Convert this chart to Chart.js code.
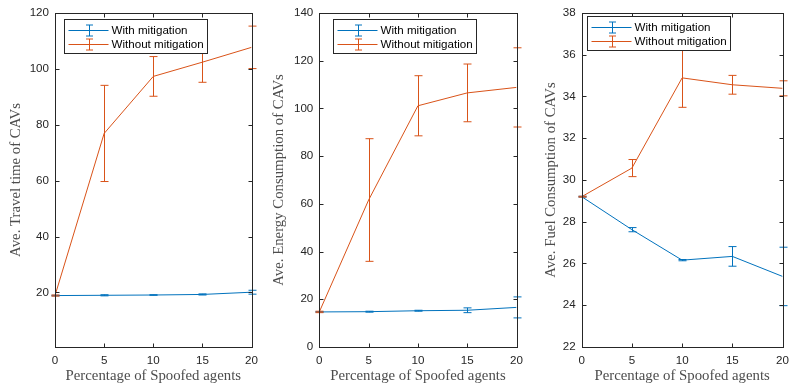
<!DOCTYPE html>
<html>
<head>
<meta charset="utf-8">
<script src="https://cdn.jsdelivr.net/npm/chart.js@4.4.0/dist/chart.umd.min.js"></script>
<style>
  body { margin: 0; background: #fff; }
  #wrap { position: relative; width: 796px; height: 385px; }
  canvas { position: absolute; top: 0; }
</style>
</head>
<body>
<div id="wrap">
  <canvas id="travel" width="265" height="385" style="left:0px"></canvas>
  <canvas id="energy" width="265" height="385" style="left:265px"></canvas>
  <canvas id="fuel" width="266" height="385" style="left:530px"></canvas>
</div>
<script>
// data
const xPct = [0, 5, 10, 15, 20];
const xTicks = [0, 5, 10, 15, 20];
const seriesNames = ['With mitigation', 'Without mitigation'];
const xTitle = 'Percentage of Spoofed agents';

const travelWith = [18.9, 19.0, 19.1, 19.3, 20.1];
const travelWithErr = [0.1, 0.2, 0.1, 0.2, 0.7];
const travelWithout = [18.9, 76.9, 97.3, 102.4, 107.7];
const travelWithoutErr = [0.2, 17.2, 7.1, 7.2, 7.6];
const travelTicks = [20, 40, 60, 80, 100, 120];

const energyWith = [14.7, 14.8, 15.2, 15.4, 16.6];
const energyWithErr = [0.1, 0.2, 0.2, 1.0, 4.4];
const energyWithout = [14.7, 61.6, 101.1, 106.5, 108.8];
const energyWithoutErr = [0.3, 25.7, 12.6, 12.1, 16.6];
const energyTicks = [0, 20, 40, 60, 80, 100, 120, 140];

const fuelWith = [29.2, 27.62, 26.16, 26.34, 25.38];
const fuelWithErr = [0.02, 0.1, 0.03, 0.47, 1.4];
const fuelWithout = [29.2, 30.57, 34.89, 34.56, 34.39];
const fuelWithoutErr = [0.02, 0.41, 1.41, 0.45, 0.36];
const fuelTicks = [22, 24, 26, 28, 30, 32, 34, 36, 38];

const blue = '#0072BD';
const orange = '#D95319';
const axisColor = '#262626';
const sansFont = { family: '"Liberation Sans", Arial, sans-serif', size: 11.6 };
const serifFont = { family: '"Liberation Serif", "Times New Roman", serif', size: 14.8 };

function toPoints(vals) {
  return vals.map((v, i) => ({ x: xPct[i], y: v }));
}

// vertical error bars with caps
const errorBars = {
  id: 'errorBars',
  afterDatasetsDraw(chart) {
    const ctx = chart.ctx;
    const yScale = chart.scales.y;
    chart.data.datasets.forEach((ds, i) => {
      const meta = chart.getDatasetMeta(i);
      ctx.save();
      ctx.strokeStyle = ds.borderColor;
      ctx.lineWidth = 1;
      meta.data.forEach((pt, j) => {
        const v = ds.data[j].y;
        const e = ds.errors[j];
        const x = Math.round(pt.x) + 0.5;
        const yTop = yScale.getPixelForValue(v + e);
        const yBot = yScale.getPixelForValue(v - e);
        ctx.beginPath();
        ctx.moveTo(x, yTop); ctx.lineTo(x, yBot);
        ctx.moveTo(x - 4, yTop); ctx.lineTo(x + 4, yTop);
        ctx.moveTo(x - 4, yBot); ctx.lineTo(x + 4, yBot);
        ctx.stroke();
      });
      ctx.restore();
    });
  }
};

// box around the axes, inward ticks, and the boxed legend
const frameAndLegend = {
  id: 'frameAndLegend',
  afterDraw(chart, args, opts) {
    const ctx = chart.ctx;
    const a = chart.chartArea;
    const L = Math.round(a.left) + 0.5, R = Math.round(a.right) + 0.5;
    const T = Math.round(a.top) + 0.5, B = Math.round(a.bottom) + 0.5;
    ctx.save();
    ctx.strokeStyle = axisColor;
    ctx.lineWidth = 1;
    ctx.strokeRect(L, T, R - L, B - T);
    ctx.beginPath();
    chart.scales.y.ticks.forEach(t => {
      const y = Math.round(chart.scales.y.getPixelForValue(t.value)) + 0.5;
      ctx.moveTo(L, y); ctx.lineTo(L + 4, y);
      ctx.moveTo(R, y); ctx.lineTo(R - 4, y);
    });
    chart.scales.x.ticks.forEach(t => {
      const x = Math.round(chart.scales.x.getPixelForValue(t.value)) + 0.5;
      ctx.moveTo(x, B); ctx.lineTo(x, B - 4);
      ctx.moveTo(x, T); ctx.lineTo(x, T + 4);
    });
    ctx.stroke();

    const lx = Math.round(a.left + opts.dx) + 0.5;
    const ly = Math.round(a.top + opts.dy) + 0.5;
    const w = 143, h = 34;
    ctx.fillStyle = '#fff';
    ctx.fillRect(lx, ly, w, h);
    ctx.strokeRect(lx, ly, w, h);
    ctx.font = sansFont.size + 'px ' + sansFont.family;
    ctx.textBaseline = 'middle';
    ctx.textAlign = 'left';
    chart.data.datasets.forEach((ds, i) => {
      const cy = Math.round(ly + 10 + i * 14.4) + 0.5;
      const cx = Math.round(lx + 24) + 0.5;
      ctx.strokeStyle = ds.borderColor;
      ctx.beginPath();
      ctx.moveTo(lx + 4, cy); ctx.lineTo(lx + 44, cy);
      ctx.moveTo(cx, cy - 5.5); ctx.lineTo(cx, cy + 5.5);
      ctx.moveTo(cx - 3.5, cy - 5.5); ctx.lineTo(cx + 3.5, cy - 5.5);
      ctx.moveTo(cx - 3.5, cy + 5.5); ctx.lineTo(cx + 3.5, cy + 5.5);
      ctx.stroke();
      ctx.fillStyle = '#000';
      ctx.fillText(ds.label, lx + 47, cy);
    });
    ctx.restore();
  }
};

function makeChart(id, cfg) {
  return new Chart(document.getElementById(id), {
    type: 'line',
    data: {
      datasets: [
        { label: seriesNames[0], data: toPoints(cfg.withVals), errors: cfg.withErr, borderColor: blue, order: 1 },
        { label: seriesNames[1], data: toPoints(cfg.withoutVals), errors: cfg.withoutErr, borderColor: orange, order: 0 }
      ]
    },
    options: {
      responsive: false,
      animation: false,
      devicePixelRatio: 1,
      layout: { padding: { top: 6, right: cfg.padRight, left: 0, bottom: 0 } },
      elements: {
        point: { radius: 0 },
        line: { borderWidth: 1, tension: 0, fill: false }
      },
      plugins: {
        legend: { display: false },
        tooltip: { enabled: false },
        frameAndLegend: { dx: cfg.legendDx, dy: cfg.legendDy }
      },
      scales: {
        x: {
          type: 'linear',
          min: 0,
          max: 20,
          afterBuildTicks: s => { s.ticks = xTicks.map(v => ({ value: v })); },
          afterFit: s => { s.height = 38; },
          grid: { display: false, drawTicks: false },
          border: { display: false },
          ticks: { padding: 7, font: sansFont, color: axisColor, maxRotation: 0 },
          title: { display: true, text: xTitle, font: serifFont, color: '#4d4d4d', padding: 0 }
        },
        y: {
          type: 'linear',
          min: cfg.yMin,
          max: cfg.yMax,
          afterBuildTicks: s => { s.ticks = cfg.yTicks.map(v => ({ value: v })); },
          afterFit: s => { s.width = cfg.yWidth; },
          grid: { display: false, drawTicks: false },
          border: { display: false },
          ticks: { padding: 6, font: sansFont, color: axisColor },
          title: { display: true, text: cfg.yTitle, font: serifFont, color: '#4d4d4d', padding: { top: cfg.titlePad, bottom: 0 } }
        }
      }
    },
    plugins: [errorBars, frameAndLegend]
  });
}

makeChart('travel', {
  withVals: travelWith, withErr: travelWithErr,
  withoutVals: travelWithout, withoutErr: travelWithoutErr,
  yMin: 0.5, yMax: 120, yTicks: travelTicks,
  yTitle: 'Ave. Travel time of CAVs',
  yWidth: 55, padRight: 9.3, titlePad: 7.6, legendDx: 9, legendDy: 6
});

makeChart('energy', {
  withVals: energyWith, withErr: energyWithErr,
  withoutVals: energyWithout, withoutErr: energyWithoutErr,
  yMin: 0, yMax: 140, yTicks: energyTicks,
  yTitle: 'Ave. Energy Consumption of CAVs',
  yWidth: 54.3, padRight: 10, titlePad: 5.2, legendDx: 14, legendDy: 6
});

makeChart('fuel', {
  withVals: fuelWith, withErr: fuelWithErr,
  withoutVals: fuelWithout, withoutErr: fuelWithoutErr,
  yMin: 22, yMax: 38, yTicks: fuelTicks,
  yTitle: 'Ave. Fuel Consumption of CAVs',
  yWidth: 51.7, padRight: 12, titlePad: 11.8, legendDx: 5, legendDy: 3.3
});
</script>
</body>
</html>
